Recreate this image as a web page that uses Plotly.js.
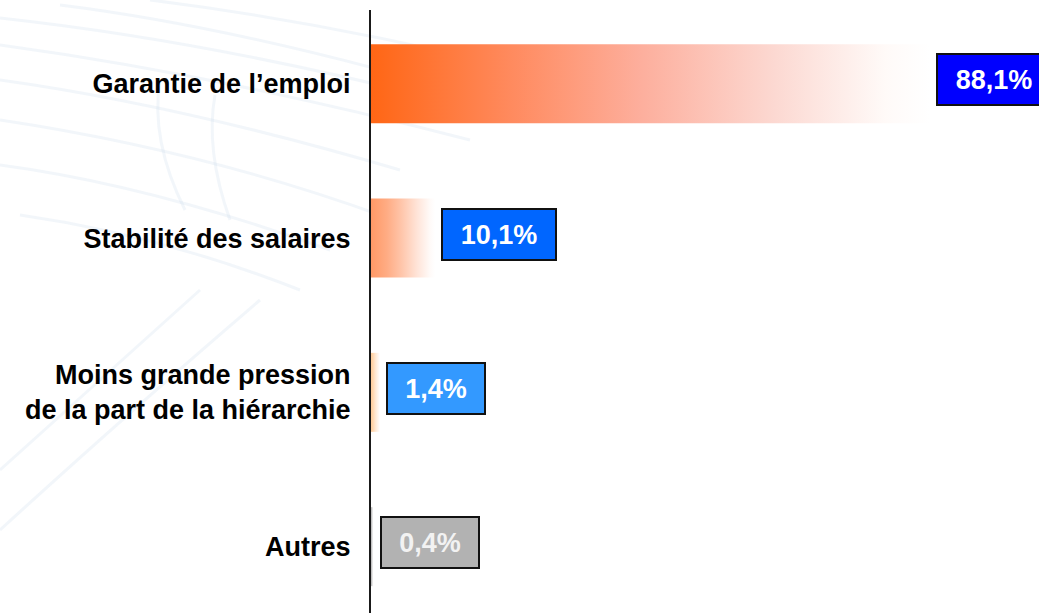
<!DOCTYPE html>
<html>
<head>
<meta charset="utf-8">
<script src="https://cdn.plot.ly/plotly-3.0.1.min.js"></script>
<style>
  html, body { margin: 0; padding: 0; background: #ffffff; }
  #chart { width: 1039px; height: 613px; }
</style>
</head>
<body>
<div id="chart"></div>
<script>
// ---- data ----
const categories = [
  "Garantie de l\u2019emploi",
  "Stabilit\u00e9 des salaires",
  "Moins grande pression<br>de la part de la hi\u00e9rarchie",
  "Autres"
];
const values = [88.1, 10.1, 1.4, 0.4];

// ---- styles ----
const barStartColors = ["#ff6615", "#ff9966", "#ffcc99", "#b4b4b4"];
const barQuarterColors = ["#ff8a5e", "#ffac84", "#ffd8b2", "#c8c8c8"];
const barMidColors   = ["#fdae9c", "#ffc6ab", "#ffe6cf", "#dedede"];
const barLateColors  = ["#fcd8d1", "#ffe4d8", "#fff2e6", "#efefef"];
const boxColors      = ["#0000ff", "#0066ff", "#3399ff", "#b2b2b2"];
const boxTextColors  = ["#ffffff", "#ffffff", "#ffffff", "#f2f2f2"];
const halfBar = 0.256;

const fmt = v => v.toFixed(1).replace(".", ",") + "%";

const traces = values.map((v, i) => ({
  type: "scatter",
  mode: "lines",
  x: [0, v, v, 0, 0],
  y: [i - halfBar, i - halfBar, i + halfBar, i + halfBar, i - halfBar],
  fill: "toself",
  line: { width: 0, color: "rgba(0,0,0,0)" },
  fillgradient: {
    type: "horizontal",
    colorscale: [
      [0, barStartColors[i]],
      [0.25, barQuarterColors[i]],
      [0.48, barMidColors[i]],
      [0.72, barLateColors[i]],
      [0.92, "#fffaf8"],
      [1, "#ffffff"]
    ]
  },
  hoverinfo: "skip",
  showlegend: false
}));

const annotations = values.map((v, i) => {
  const t = fmt(v);
  return {
    x: v, y: i, xref: "x", yref: "y",
    xanchor: "left", yanchor: "middle",
    xshift: 6, yshift: 4,
    text: "<b>" + t + "</b>",
    showarrow: false,
    font: { family: "Liberation Sans, Arial, sans-serif", size: 27, color: boxTextColors[i] },
    bgcolor: boxColors[i],
    bordercolor: "#111111",
    borderwidth: 2,
    borderpad: 1,
    width: 16 * t.length + 30,
    height: 47,
    align: "center",
    valign: "middle"
  };
});

// faint decorative background streaks (left side, like the slide template)
const W = 1039, H = 613, L = 371, T = 10;
const px = x => (x - L) / (W - L);
const py = y => (H - y) / (H - T);
const deco = [
  [[0,18],[200,40],[420,95]],
  [[0,45],[220,75],[470,140]],
  [[0,80],[180,105],[400,170]],
  [[0,120],[200,150],[380,215]],
  [[0,165],[150,185],[330,250]],
  [[20,215],[160,235],[300,290]],
  [[60,5],[260,30],[520,110]],
  [[150,0],[350,25],[560,80]],
  [[0,530],[120,420],[260,300]],
  [[0,470],[100,380],[200,290]],
  [[160,80],[150,140],[185,210]],
  [[215,95],[205,150],[230,220]]
];
const shapes = deco.map(p => ({
  type: "path", xref: "paper", yref: "paper", layer: "below",
  path: `M ${px(p[0][0])} ${py(p[0][1])} Q ${px(p[1][0])} ${py(p[1][1])} ${px(p[2][0])} ${py(p[2][1])}`,
  line: { color: "rgba(195,212,232,0.22)", width: 3 }
}));

const layout = {
  width: W, height: H,
  margin: { l: L, r: 0, t: T, b: 0, pad: 0 },
  paper_bgcolor: "#ffffff",
  plot_bgcolor: "rgba(0,0,0,0)",
  showlegend: false,
  xaxis: {
    range: [0, 105.3],
    visible: false,
    fixedrange: true
  },
  yaxis: {
    range: [3.43, -0.478],
    tickmode: "array",
    tickvals: categories.map((c, i) => i),
    ticktext: categories.map(c => "<b>" + c + "</b>"),
    tickfont: { family: "Liberation Sans, Arial, sans-serif", size: 27, color: "#000000" },
    ticks: "",
    ticklabelstandoff: 13,
    showgrid: false,
    zeroline: false,
    showline: true,
    linecolor: "#1a1a1a",
    linewidth: 2,
    fixedrange: true
  },
  annotations: annotations,
  shapes: shapes
};

Plotly.newPlot("chart", traces, layout, { displayModeBar: false, staticPlot: true });
</script>
</body>
</html>
